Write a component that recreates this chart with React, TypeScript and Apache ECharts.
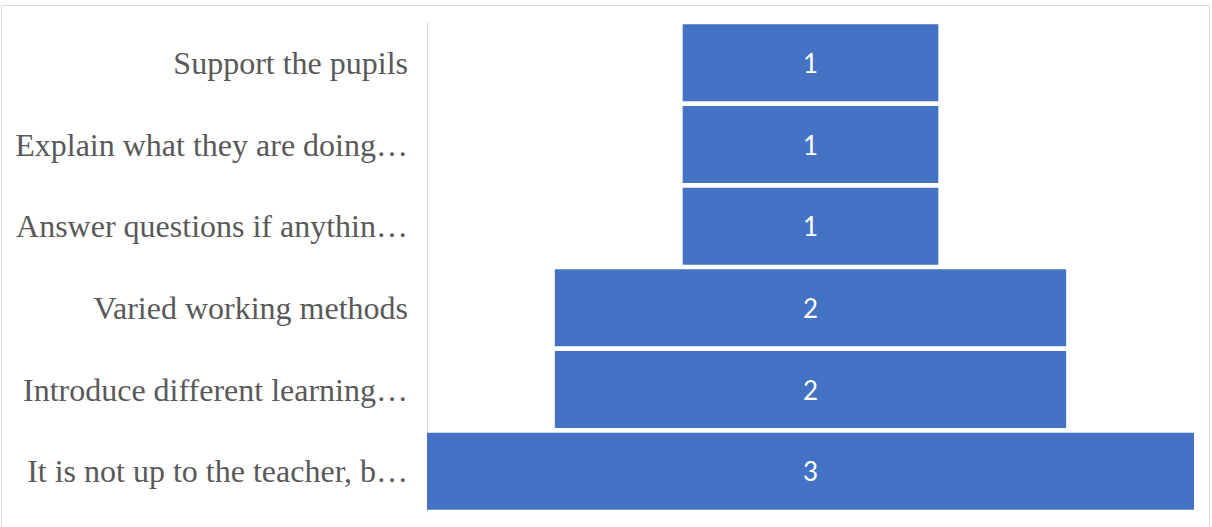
import React, { useEffect, useRef } from "react";
import * as echarts from "echarts";

const categories = [
  "Support the pupils",
  "Explain what they are doing…",
  "Answer questions if anythin…",
  "Varied working methods",
  "Introduce different learning…",
  "It is not up to the teacher, b…",
];
const values = [1, 1, 1, 2, 2, 3];
const maxValue = 3;

export default function App() {
  const ref = useRef<HTMLDivElement>(null);
  useEffect(() => {
    if (!ref.current) return;
    const chart = echarts.init(ref.current, undefined, { renderer: "svg" });
    const offsets = values.map((v) => (maxValue - v) / 2);
    chart.setOption({
      animation: false,
      backgroundColor: "#ffffff",
      grid: { left: 427, right: 18, top: 22, bottom: 15, containLabel: false },
      xAxis: {
        type: "value",
        min: 0,
        max: maxValue,
        show: false,
      },
      yAxis: {
        type: "category",
        data: categories,
        inverse: true,
        axisLine: { show: true, lineStyle: { color: "#d9d9d9", width: 1 } },
        axisTick: { show: false },
        axisLabel: {
          color: "#595959",
          fontFamily: "Liberation Serif",
          fontSize: 32,
          margin: 19,
        },
      },
      graphic: [
        {
          type: "rect",
          shape: { x: 1.5, y: 5.5, width: 1208, height: 530 },
          style: { fill: "none", stroke: "#d9d9d9", lineWidth: 1 },
          silent: true,
          z: 100,
        },
      ],
      series: [
        {
          type: "bar",
          stack: "f",
          data: offsets,
          itemStyle: { color: "transparent" },
          barWidth: 77,
          silent: true,
        },
        {
          type: "bar",
          stack: "f",
          data: values,
          barWidth: 77,
          itemStyle: { color: "#4472C4" },
          label: {
            show: true,
            position: "inside",
            color: "#ffffff",
            fontFamily: "Lato",
            fontSize: 26,
          },
        },
      ],
    });
    return () => chart.dispose();
  }, []);
  return (
    <div
      ref={ref}
      style={{ position: "absolute", left: 0, top: 0, width: 1212, height: 527 }}
    />
  );
}
